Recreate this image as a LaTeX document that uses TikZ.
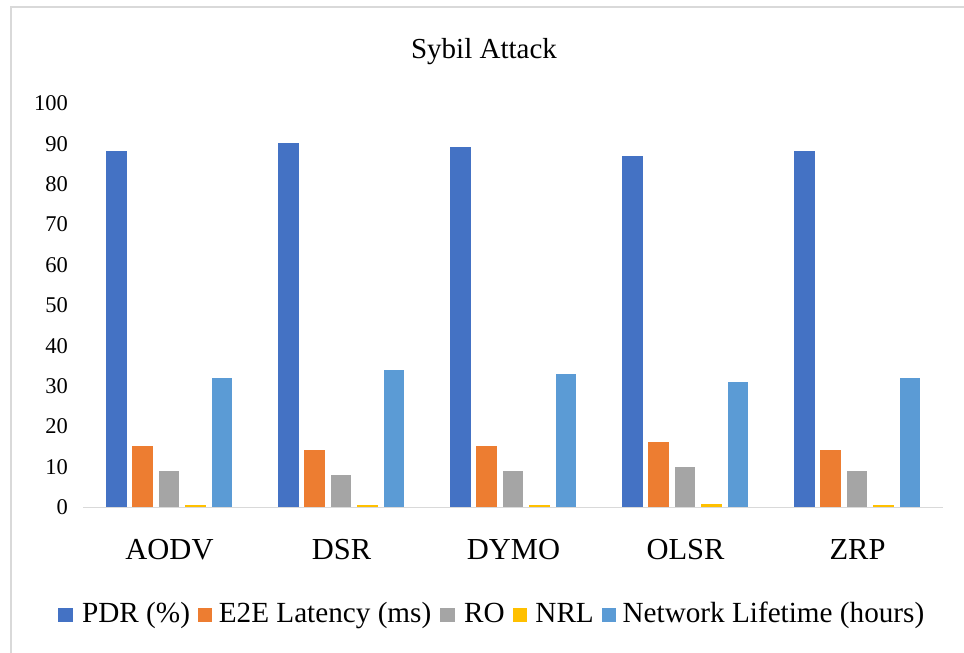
\documentclass[tikz,border=0pt]{standalone}
\usepackage{fontspec}
\setmainfont{Liberation Serif}
\definecolor{cpdr}{HTML}{4472C4}
\definecolor{corange}{HTML}{ED7D31}
\definecolor{cgray}{HTML}{A5A5A5}
\definecolor{cyellow}{HTML}{FFC000}
\definecolor{clblue}{HTML}{5B9BD5}
\definecolor{cline}{HTML}{D9D9D9}
\begin{document}
\begin{tikzpicture}[x=1pt,y=-1pt,
  ticklab/.style={anchor=base east,inner sep=0pt,font=\fontsize{22.5}{26}\selectfont},
  catlab/.style={anchor=base,inner sep=0pt,font=\fontsize{30.5}{36}\selectfont},
  legtext/.style={anchor=base west,inner sep=0pt,font=\fontsize{29.2}{34}\selectfont},
  lsq/.style={minimum size=14.5pt,inner sep=0pt,draw=none}]
\useasboundingbox (0,0) rectangle (964,653);
\fill[white] (0,0) rectangle (964,653);
\coordinate (bl) at (11,653);
\coordinate (tl) at (11,7);
\coordinate (tr) at (964,7);
\draw[cline,line width=1.3pt] (bl) -- (tl) -- (tr);
\node[anchor=base,inner sep=0pt,font=\fontsize{29}{34}\selectfont] (title) at (484,58) {Sybil Attack};
\foreach \v in {0,10,...,100}{
  \node[ticklab] (t\v) at (68,{514.6-4.04*\v}) {\v};
}
\foreach \name/\a/\b/\c/\d/\e [count=\ci from 0] in
  {AODV/88/15/9/0.5/32, DSR/90/14/8/0.5/34, DYMO/89/15/9/0.5/33, OLSR/87/16/10/0.7/31, ZRP/88/14/9/0.6/32}{
  \foreach \v/\col [count=\si from 0] in {\a/cpdr,\b/corange,\c/cgray,\d/cyellow,\e/clblue}{
    \fill[\col] ({83+\ci*172+23+\si*26.4},507) rectangle ++(20.5,{-4.04*\v});
  }
  \node[catlab] (cat\name) at ({83+\ci*172+86.5},559) {\name};
}
\coordinate (axL) at (83,507.5);
\coordinate (axR) at (943,507.5);
\draw[cline,line width=1.4pt] (axL) -- (axR);
% legend
\node[lsq,fill=cpdr] (lq1) at (65.5,615) {};
\node[legtext] (l1) at ([xshift=9pt]lq1.east |- 0,622.5) {PDR (\%)};
\node[lsq,fill=corange,anchor=west] (lq2) at ([xshift=7.5pt]l1.east |- lq1.center) {};
\node[legtext] (l2) at ([xshift=6pt]lq2.east |- 0,622.5) {E2E Latency (ms)};
\node[lsq,fill=cgray,anchor=west] (lq3) at ([xshift=8.5pt]l2.east |- lq1.center) {};
\node[legtext] (l3) at ([xshift=9pt]lq3.east |- 0,622.5) {RO};
\node[lsq,fill=cyellow,anchor=west] (lq4) at ([xshift=7.5pt]l3.east |- lq1.center) {};
\node[legtext] (l4) at ([xshift=8pt]lq4.east |- 0,622.5) {NRL};
\node[lsq,fill=clblue,anchor=west] (lq5) at ([xshift=7.5pt]l4.east |- lq1.center) {};
\node[legtext] (l5) at ([xshift=6pt]lq5.east |- 0,622.5) {Network Lifetime (hours)};
\end{tikzpicture}
\end{document}
